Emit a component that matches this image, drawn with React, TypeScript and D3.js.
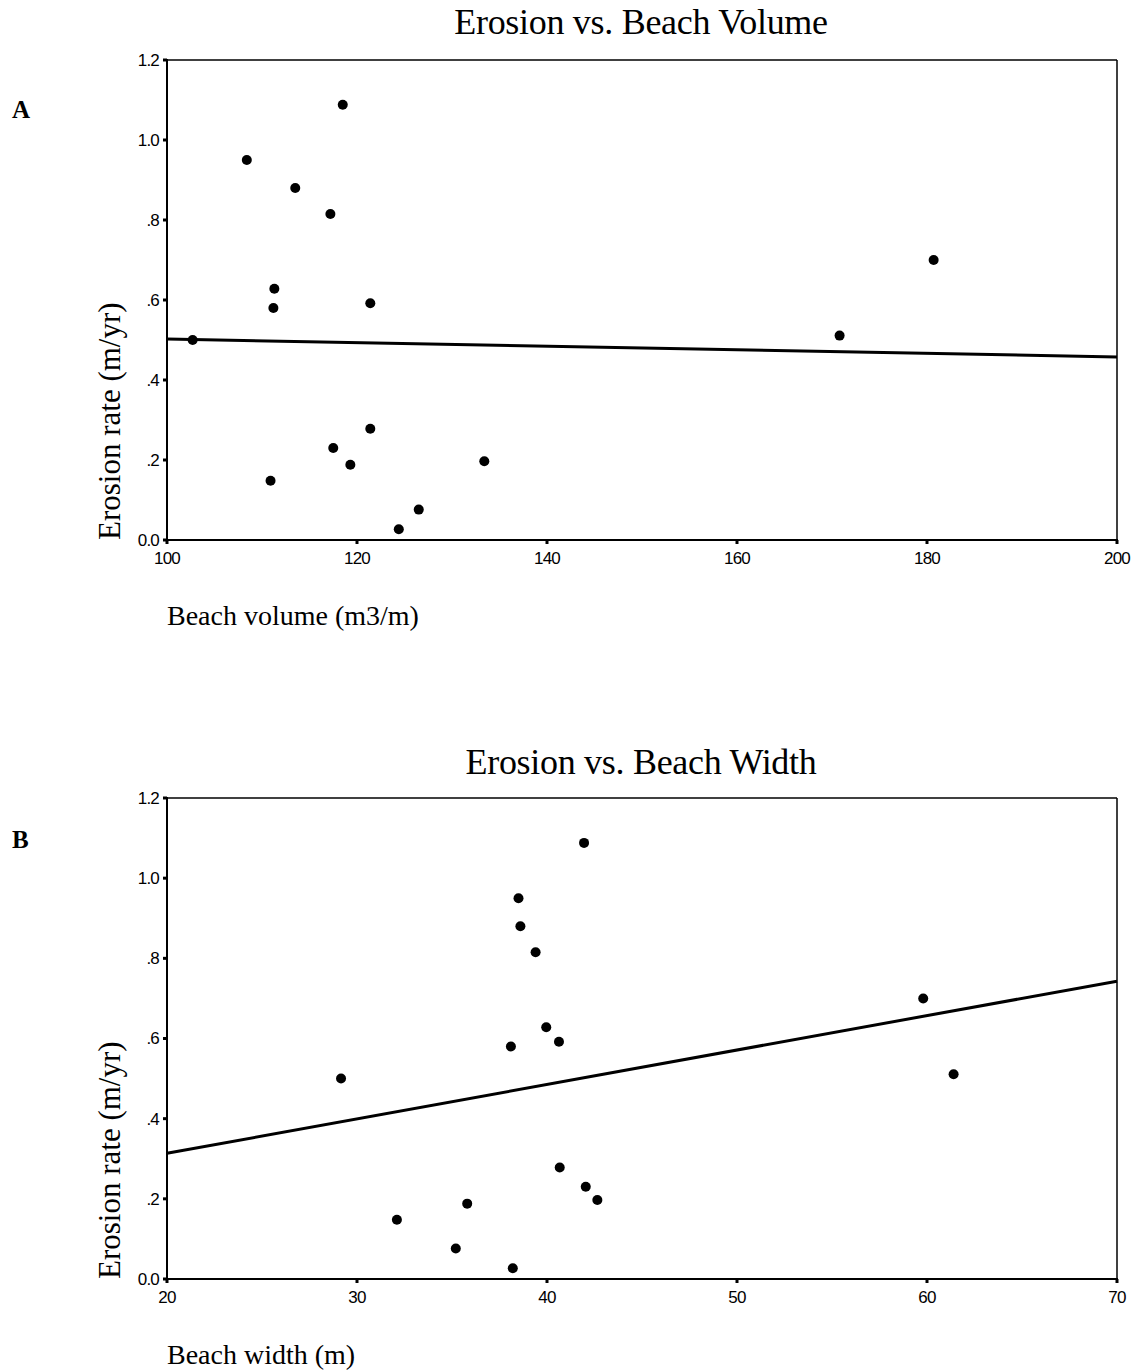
import React from "react";
import * as d3 from "d3";

const erosion = [0.5, 0.95, 0.88, 0.815, 1.088, 0.628, 0.58, 0.592, 0.23, 0.278, 0.188, 0.148, 0.027, 0.076, 0.197, 0.511, 0.7];
const volume = [102.7, 108.4, 113.5, 117.2, 118.5, 111.3, 111.2, 121.4, 117.5, 121.4, 119.3, 110.9, 124.4, 126.5, 133.4, 170.8, 180.7];
const widthM = [29.16, 38.5, 38.6, 39.4, 41.95, 39.96, 38.1, 40.63, 42.04, 40.67, 35.8, 32.1, 38.2, 35.2, 42.65, 61.4, 59.8];

const fitA: [number, number][] = [[100, 0.5025], [200, 0.4575]];
const fitB: [number, number][] = [[20, 0.3136], [70, 0.743]];

const yTicks = [0, 0.2, 0.4, 0.6, 0.8, 1.0, 1.2];
const yTickLabels = ["0.0", ".2", ".4", ".6", ".8", "1.0", "1.2"];
const xTicksA = [100, 120, 140, 160, 180, 200];
const xTicksB = [20, 30, 40, 50, 60, 70];

const SANS = "'Liberation Sans', Arial, sans-serif";
const SERIF = "'Liberation Serif', 'Times New Roman', serif";

type PanelProps = {
  top: number;
  bottom: number;
  xDomain: [number, number];
  xs: number[];
  xTicks: number[];
  fit: [number, number][];
  title: string;
  titleY: number;
  letter: string;
  letterY: number;
  xLabel: string;
  xLabelY: number;
};

function Panel(p: PanelProps) {
  const left = 167;
  const right = 1117;
  const x = d3.scaleLinear().domain(p.xDomain).range([left, right]);
  const y = d3.scaleLinear().domain([0, 1.2]).range([p.bottom, p.top]);
  const line = d3
    .line<[number, number]>()
    .x((d) => x(d[0]))
    .y((d) => y(d[1]));
  return (
    <g>
      <text x={641} y={p.titleY} textAnchor="middle" fontFamily={SERIF} fontSize={36} letterSpacing={-0.3}>
        {p.title}
      </text>
      <text x={12} y={p.letterY} fontFamily={SERIF} fontWeight="bold" fontSize={25}>
        {p.letter}
      </text>
      {/* frame */}
      <line x1={left} x2={right} y1={p.top} y2={p.top} stroke="#000" strokeWidth={1.5} />
      <line x1={right} x2={right} y1={p.top} y2={p.bottom} stroke="#000" strokeWidth={1.5} />
      <line x1={left} x2={left} y1={p.top - 1} y2={p.bottom + 1} stroke="#000" strokeWidth={2} />
      <line x1={left - 1} x2={right + 1} y1={p.bottom} y2={p.bottom} stroke="#000" strokeWidth={2} />
      {/* y ticks */}
      {yTicks.map((t, i) => (
        <g key={"y" + i}>
          <line x1={left - 4} x2={left} y1={y(t)} y2={y(t)} stroke="#000" strokeWidth={3} />
          <text
            x={left - 8}
            y={y(t)}
            dy="0.35em"
            textAnchor="end"
            fontFamily={SANS}
            fontSize={17}
            letterSpacing={-0.8}
          >
            {yTickLabels[i]}
          </text>
        </g>
      ))}
      {/* x ticks */}
      {p.xTicks.map((t, i) => (
        <g key={"x" + i}>
          <line x1={x(t)} x2={x(t)} y1={p.bottom} y2={p.bottom + 4} stroke="#000" strokeWidth={3} />
          <text
            x={x(t)}
            y={p.bottom + 24}
            textAnchor="middle"
            fontFamily={SANS}
            fontSize={17}
            letterSpacing={-0.8}
          >
            {t}
          </text>
        </g>
      ))}
      {/* axis labels */}
      <text
        transform={`translate(120, ${p.bottom}) rotate(-90)`}
        textAnchor="start"
        fontFamily={SERIF}
        fontSize={31}
      >
        Erosion rate (m/yr)
      </text>
      <text x={167} y={p.xLabelY} fontFamily={SERIF} fontSize={28}>
        {p.xLabel}
      </text>
      {/* regression */}
      <path d={line(p.fit) || ""} fill="none" stroke="#000" strokeWidth={3} />
      {/* points */}
      {p.xs.map((v, i) => (
        <circle key={"p" + i} cx={x(v)} cy={y(erosion[i])} r={5} fill="#000" />
      ))}
    </g>
  );
}

export default function App() {
  return (
    <div style={{ position: "absolute", left: 0, top: 0 }}>
      <svg width={1139} height={1371} style={{ display: "block", background: "#fff" }}>
        <Panel
          top={60}
          bottom={540}
          xDomain={[100, 200]}
          xs={volume}
          xTicks={xTicksA}
          fit={fitA}
          title="Erosion vs. Beach Volume"
          titleY={34}
          letter="A"
          letterY={118}
          xLabel="Beach volume (m3/m)"
          xLabelY={625}
        />
        <Panel
          top={798}
          bottom={1279}
          xDomain={[20, 70]}
          xs={widthM}
          xTicks={xTicksB}
          fit={fitB}
          title="Erosion vs. Beach Width"
          titleY={774}
          letter="B"
          letterY={848}
          xLabel="Beach width (m)"
          xLabelY={1364}
        />
      </svg>
    </div>
  );
}
